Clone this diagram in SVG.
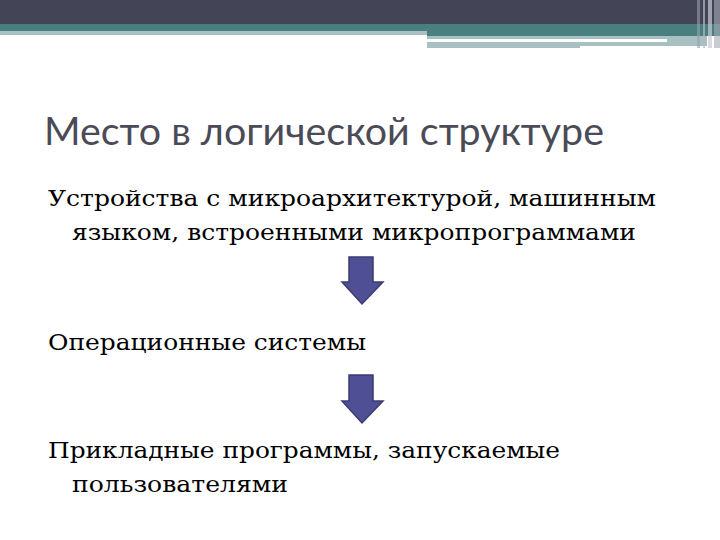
<svg xmlns="http://www.w3.org/2000/svg" width="720" height="540" viewBox="0 0 720 540">
<style>
.title{font-family:Lato,"Open Sans","DejaVu Sans",sans-serif;font-size:38px;fill:#4b4b57}
.body{font-family:"DejaVu Serif","Liberation Serif",serif;font-size:23px;fill:#000}
.arrow{fill:#4f4f95;stroke:#3b3b72;stroke-width:1.5}
</style>
<rect width="720" height="540" fill="#fff"/>
<g id="header">
<rect x="0" y="0" width="720" height="24" fill="#434456"/>
<rect x="0" y="24" width="427" height="7" fill="#4a7f80"/>
<rect x="0" y="31" width="427" height="4" fill="#a9c0c2"/>
<rect x="427" y="24" width="293" height="12" fill="#4a7f80"/>
<rect x="427" y="36" width="280" height="12" fill="#a9c0c2"/>
<rect x="427" y="39" width="240" height="3" fill="#fff"/>
<rect x="580" y="46" width="127" height="3" fill="#fff"/>
<rect x="697" y="0" width="3" height="48" fill="#9aa0ad" opacity="0.6"/>
<rect x="703" y="0" width="2" height="48" fill="#b5b9c4" opacity="0.7"/>
<rect x="708" y="0" width="4" height="48" fill="#c9ccd4" opacity="0.7"/>
<rect x="714" y="0" width="6" height="48" fill="#a6aab6" opacity="0.6"/>
</g>
<g id="title"><text class="title" x="44" y="145" textLength="560" lengthAdjust="spacingAndGlyphs">Место в логической структуре</text></g>
<g id="node1">
<text class="body" x="48" y="206" textLength="608" lengthAdjust="spacingAndGlyphs">Устройства с микроархитектурой, машинным</text>
<text class="body" x="72" y="240" textLength="564" lengthAdjust="spacingAndGlyphs">языком, встроенными микропрограммами</text>
</g>
<g id="node2"><text class="body" x="48" y="350" textLength="318" lengthAdjust="spacingAndGlyphs">Операционные системы</text></g>
<g id="node3">
<text class="body" x="48" y="458" textLength="512" lengthAdjust="spacingAndGlyphs">Прикладные программы, запускаемые</text>
<text class="body" x="72" y="492" textLength="216" lengthAdjust="spacingAndGlyphs">пользователями</text>
</g>
<g id="connectors">
<path class="arrow" d="M349,257 H373 V282 H383 L362,304 L342,282 H349 Z"/>
<path class="arrow" d="M349,375 H373 V401 H383 L362,423 L342,401 H349 Z"/>
</g>
</svg>
